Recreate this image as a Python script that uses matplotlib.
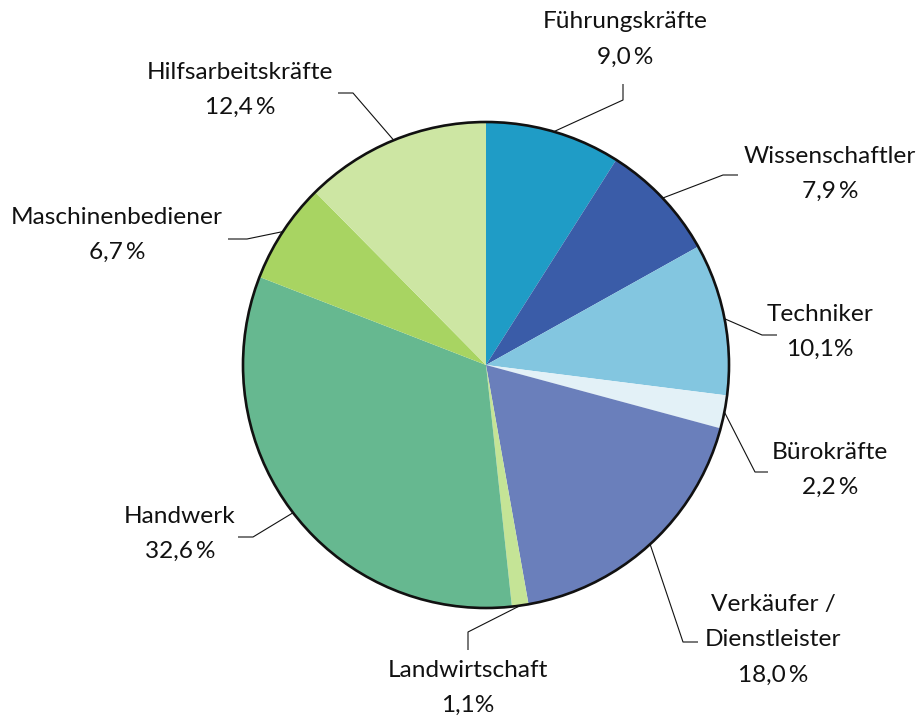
import numpy as np
import matplotlib
matplotlib.use("Agg")
import matplotlib.pyplot as plt
from matplotlib.patches import Circle

plt.rcParams['font.family'] = ['Lato', 'DejaVu Sans']

categories = ["Führungskräfte", "Wissenschaftler", "Techniker", "Bürokräfte",
              "Verkäufer /\nDienstleister", "Landwirtschaft", "Handwerk",
              "Maschinenbediener", "Hilfsarbeitskräfte"]
values = [9.0, 7.9, 10.1, 2.2, 18.0, 1.1, 32.6, 6.7, 12.4]
value_labels = ["9,0\u2009%", "7,9\u2009%", "10,1%", "2,2\u2009%", "18,0\u2009%",
                "1,1%", "32,6\u2009%", "6,7\u2009%", "12,4\u2009%"]
colors = ["#1f9cc6", "#3a5ca8", "#83c6e0", "#e3f1f7", "#6a7fbb",
          "#c5e496", "#66b890", "#a8d462", "#cde6a3"]

W, H = 918, 719
fig = plt.figure(figsize=(W / 100, H / 100), dpi=100)
ax = fig.add_axes([0, 0, 1, 1])

cx, cy, R = 486, H - 365, 243
wedges, _ = ax.pie(values, colors=colors, startangle=90, counterclock=False,
                   center=(cx, cy), radius=R, wedgeprops=dict(linewidth=0),
                   frame=True)
ax.set_xlim(0, W)
ax.set_ylim(0, H)
ax.set_aspect('equal')
ax.axis('off')
ax.add_patch(Circle((cx, cy), R, fill=False, edgecolor='#111111', linewidth=1.9, zorder=5))

# layout: text centre (x, y top-origin), elbow, end  (pixel coords, top origin)
layout = [
    ((625, 39.5), (623, 100), (623, 84)),
    ((830, 174), (723, 175), (738, 175)),
    ((820, 332), (762, 335), (777, 335)),
    ((830, 470), (755, 472), (768, 472)),
    ((773, 640), (683, 642), (698, 642)),
    ((468, 688), (468, 632), (468, 650)),
    ((180, 534), (253, 537), (238, 537)),
    ((117, 235), (247, 239), (228, 239)),
    ((240, 90), (353, 93), (338, 93)),
]

pitch = 35
for w, cat, vl, (tpos, elbow, end) in zip(wedges, categories, value_labels, layout):
    mid = np.deg2rad((w.theta1 + w.theta2) / 2)
    sx, sy = cx + R * np.cos(mid), cy + R * np.sin(mid)
    ax.plot([sx, elbow[0], end[0]], [sy, H - elbow[1], H - end[1]],
            color='#111111', linewidth=0.8, zorder=4, solid_capstyle='butt')
    lines = cat.split("\n") + [vl]
    n = len(lines)
    for i, ln in enumerate(lines):
        y = tpos[1] + (i - (n - 1) / 2) * pitch
        ax.text(tpos[0], H - y, ln, ha='center', va='center', fontsize=17.6,
                color='#111111')

fig.savefig("out.png", dpi=100)
